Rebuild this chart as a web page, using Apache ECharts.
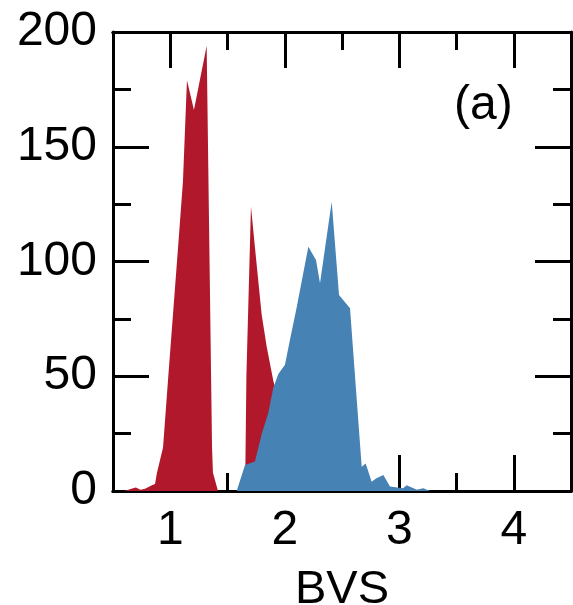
<!DOCTYPE html>
<html>
<head>
<meta charset="utf-8">
<script src="https://cdn.jsdelivr.net/npm/echarts@6/dist/echarts.min.js"></script>
<style>
html,body{margin:0;padding:0;background:#fff;}
#chart{width:573px;height:605px;}
</style>
</head>
<body>
<div id="chart"></div>
<script>
// BVS values and counts
const redX = [0.60,0.66,0.70,0.74,0.78,0.84,0.867,0.884,0.937,0.980,1.024,1.068,1.111,1.146,1.207,1.318,1.365,1.373,1.417,
              1.62,1.655,1.665,1.705,1.74,1.798,1.842,1.90,1.95,2.00,2.10,2.20,2.30,2.40,2.60,2.80,3.00,3.10,3.15,3.20];
const redY = [0,1,1.5,0.5,1,2.5,3,8,19,48,77,106,135,179,166,194,19,8,0,
              0,5,50,124,106,77,63,48,38,30,18,10,5,3,1,0.5,0.5,1.5,0.5,0];
const blueX = [1.50,1.58,1.653,1.74,1.799,1.856,1.90,1.944,2.002,2.046,2.104,2.206,2.273,2.308,2.41,2.474,2.57,
               2.672,2.707,2.759,2.797,2.861,2.919,3.033,3.065,3.152,3.21,3.27];
const blueY = [0,0,11.3,12.8,25,34,45,51,55,66,80,106.4,100.6,90.5,126,85.4,79.6,
               10.6,12,4,5.5,7,2,1.2,2.5,0.5,1.2,0];
const xMajorTicks = [1,2,3,4];
const xMinorTicks = [1.5,2.5,3.5];
const yTicks = [0,50,100,150,200];
const panelLabel = '(a)';
const xName = 'BVS';

const zip = (xs, ys) => xs.map((x, i) => [x, ys[i]]);
const FONT = 'Liberation Sans';
const lineSt = {color:'#000', width:3};

function xAx(pos, major, withLabels) {
  return {
    type:'value', position:pos, min:0.5, max:4.5,
    axisLine:{show:true, onZero:false, lineStyle:lineSt},
    axisTick:{show:true, inside:true, length: major?36:18, lineStyle:lineSt,
              customValues: major ? xMajorTicks : xMinorTicks},
    axisLabel: withLabels ? {show:true, customValues:xMajorTicks, fontSize:48, fontFamily:FONT, color:'#000', margin:16} : {show:false},
    splitLine:{show:false},
    name: withLabels ? xName : '',
    nameLocation:'middle', nameGap:76,
    nameTextStyle:{fontSize:47, fontFamily:FONT, color:'#000'}
  };
}
function yAx(pos, withLabels) {
  return {
    type:'value', position:pos, min:0, max:200, interval:50,
    axisLine:{show:true, onZero:false, lineStyle:lineSt},
    axisTick:{show:true, inside:true, length:36, lineStyle:lineSt},
    minorTick:{show:true, splitNumber:2, length:18, lineStyle:lineSt},
    axisLabel: withLabels ? {show:true, fontSize:48, fontFamily:FONT, color:'#000', margin:16,
       formatter: v => yTicks.includes(v) ? String(v) : ''} : {show:false},
    splitLine:{show:false}, minorSplitLine:{show:false}
  };
}

const chart = echarts.init(document.getElementById('chart'), null, {renderer:'canvas'});
chart.setOption({
  animation:false,
  backgroundColor:'#fff',
  title:{text:panelLabel, left:454, top:82, padding:0,
         textStyle:{fontSize:48, fontWeight:'normal', fontFamily:FONT, color:'#000'}},
  grid:{left:113, right:2, top:32, bottom:114, containLabel:false, outerBoundsMode:'none'},
  xAxis:[xAx('bottom', true, true), xAx('bottom', false, false), xAx('top', true, false), xAx('top', false, false)],
  yAxis:[yAx('left', true), yAx('right', false)],
  series:[
    {type:'line', data:zip(redX, redY), symbol:'none', lineStyle:{width:0},
     areaStyle:{color:'#B2182B', opacity:1}, color:'#B2182B', z:2},
    {type:'line', data:zip(blueX, blueY), symbol:'none', lineStyle:{width:0},
     areaStyle:{color:'#4682B4', opacity:1}, color:'#4682B4', z:3}
  ]
});
</script>
</body>
</html>
